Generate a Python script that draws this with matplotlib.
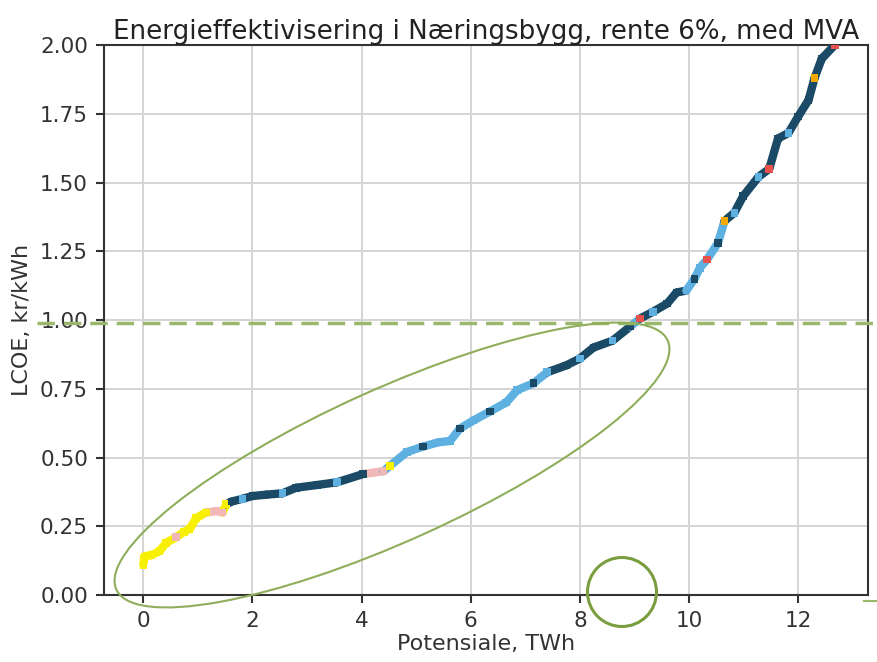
import matplotlib
matplotlib.use("Agg")
import matplotlib.pyplot as plt
from matplotlib.collections import LineCollection
from matplotlib.patches import Ellipse
import numpy as np

# potential (TWh) vs LCOE (kr/kWh)
potential = [0.00, 0.02, 0.15, 0.30, 0.42, 0.60, 0.75, 0.85, 0.97, 1.15, 1.34, 1.45,
             1.52, 1.62, 1.82, 2.00, 2.26, 2.55, 2.80, 3.18, 3.55, 4.03, 4.40, 4.52,
             4.83, 5.13, 5.40, 5.62, 5.80, 6.05, 6.35, 6.65, 6.85, 7.15, 7.40, 7.75,
             8.00, 8.25, 8.60, 8.92, 9.10, 9.34, 9.60, 9.77, 9.95, 10.10, 10.20, 10.33,
             10.53, 10.65, 10.83, 10.99, 11.27, 11.47, 11.63, 11.82, 12.00, 12.19, 12.30,
             12.43, 12.67, 12.80]
lcoe = [0.11, 0.14, 0.145, 0.16, 0.19, 0.21, 0.23, 0.24, 0.28, 0.30, 0.305, 0.30,
        0.33, 0.34, 0.35, 0.36, 0.365, 0.37, 0.39, 0.40, 0.41, 0.44, 0.45, 0.47,
        0.52, 0.54, 0.555, 0.56, 0.605, 0.635, 0.667, 0.70, 0.745, 0.77, 0.81, 0.835,
        0.86, 0.90, 0.925, 0.976, 1.005, 1.03, 1.06, 1.10, 1.107, 1.15, 1.19, 1.22,
        1.28, 1.36, 1.39, 1.45, 1.52, 1.55, 1.66, 1.68, 1.74, 1.80, 1.88,
        1.95, 2.00, 2.05]
# category of each segment / each point (Y yellow, P pink, N navy, B light blue, R red, O orange)
segment_cat = ("YYYYYYYYY" "PP" "Y" "NNNNNNNNN" "P" "BBBBBBBBBBBB" "NNNNN" "B" "NNNN"
               "BBBBB" "NNNNNNNNNNNN")
point_cat = "YYYYYPYYYYPPYNBNNBNNBNPYBNBBNBNBBNBNBNBNRBNNBNBRNOBNBRNBNNONRN"

cat_colors = {"Y": "#f7f000", "P": "#f2b8b8", "N": "#1b4a66", "B": "#5eb0e0",
              "R": "#e8524c", "O": "#f4a800"}
green = "#8fae5b"

fig = plt.figure(figsize=(8.77, 6.62), dpi=100)
ax = fig.add_axes([0.1186, 0.1012, 0.8712, 0.8308])

pts = np.column_stack([potential, lcoe])
segs = np.stack([pts[:-1], pts[1:]], axis=1)
lc = LineCollection(segs, colors=[cat_colors[c] for c in segment_cat],
                    linewidths=6, capstyle="round", zorder=3)
ax.add_collection(lc)
ax.scatter(potential, lcoe, s=30, marker="s",
           c=[cat_colors[c] for c in point_cat], zorder=4, linewidths=0)

ax.set_xlim(-0.72, 13.28)
ax.set_ylim(0, 2.0)
ax.set_xticks([0, 2, 4, 6, 8, 10, 12])
ax.set_yticks(np.arange(0, 2.01, 0.25))
ax.yaxis.set_major_formatter(matplotlib.ticker.FormatStrFormatter("%.2f"))
ax.grid(color="#d4d4d4", lw=1.4)
ax.set_axisbelow(True)
for s in ax.spines.values():
    s.set_color("#333333"); s.set_linewidth(1.5)
ax.tick_params(labelsize=15.5, colors="#333333", length=6, width=1.5, pad=5.5)
ax.set_xlabel("Potensiale, TWh", fontsize=16, color="#333333", labelpad=2)
ax.set_ylabel("LCOE, kr/kWh", fontsize=16, color="#333333", labelpad=6)
ax.set_title("Energieffektivisering i Næringsbygg, rente 6%, med MVA",
             fontsize=18.8, color="#222222", pad=4)

# annotation overlay
ax.plot([-1.95, 13.44], [0.99, 0.99], color="#9ab86a", lw=2.5, dashes=(5, 2.6),
        clip_on=False, zorder=5)
ax.plot([13.2, 13.44], [-0.02, -0.02], color="#9ab86a", lw=1.5, clip_on=False)
fig.patches.append(Ellipse((3.92, 1.97), 6.05, 1.52, angle=24.3, fill=False,
                           ec=green, lw=1.5, transform=fig.dpi_scale_trans))
fig.patches.append(Ellipse((6.22, 0.70), 0.69, 0.69, fill=False,
                           ec="#7a9e3f", lw=2.2, transform=fig.dpi_scale_trans))

fig.savefig("out.png", dpi=100)
